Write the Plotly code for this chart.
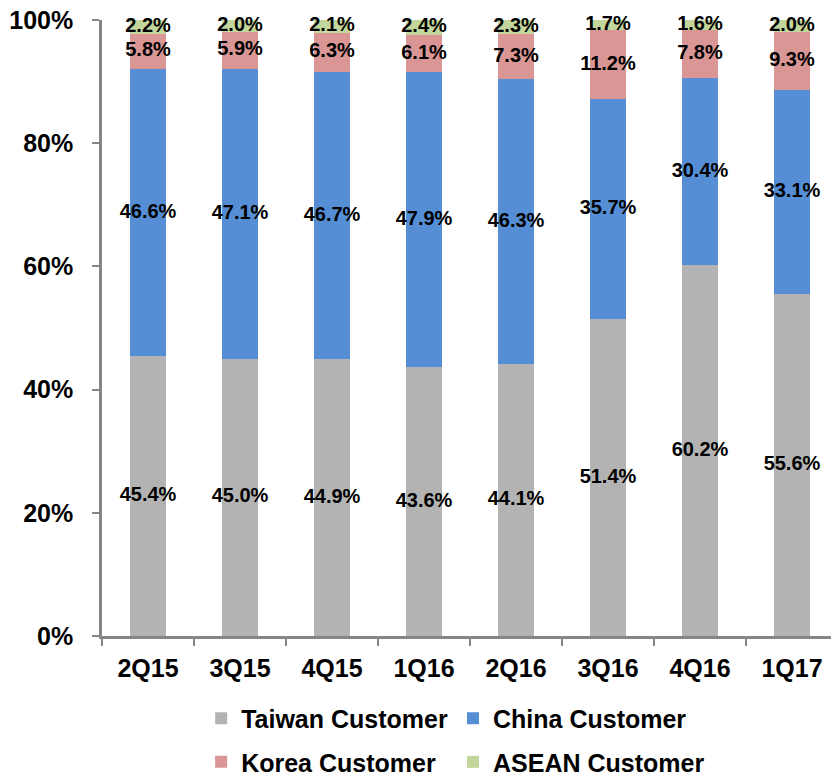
import plotly.graph_objects as go

quarters = ["2Q15", "3Q15", "4Q15", "1Q16", "2Q16", "3Q16", "4Q16", "1Q17"]
taiwan = [45.4, 45.0, 44.9, 43.6, 44.1, 51.4, 60.2, 55.6]
china = [46.6, 47.1, 46.7, 47.9, 46.3, 35.7, 30.4, 33.1]
korea = [5.8, 5.9, 6.3, 6.1, 7.3, 11.2, 7.8, 9.3]
asean = [2.2, 2.0, 2.1, 2.4, 2.3, 1.7, 1.6, 2.0]

# name, values, colour, legend id, legend x (plot fraction), legend top (container fraction)
series = [
    ("Taiwan Customer", taiwan, "#B3B3B3", "legend", 0.136, 0.106),
    ("China Customer", china, "#558ED5", "legend2", 0.4815, 0.106),
    ("Korea Customer", korea, "#D99694", "legend3", 0.136, 0.050),
    ("ASEAN Customer", asean, "#C3D69B", "legend4", 0.4815, 0.050),
]

FONT = "Liberation Sans, Arial, sans-serif"

fig = go.Figure()
base = [0.0] * len(quarters)
label_x, label_y, label_t = [], [], []
legends = {}
for name, vals, color, leg, lx, ly in series:
    fig.add_trace(go.Bar(
        x=quarters, y=[v / 100 for v in vals], name=name,
        marker=dict(color=color, line=dict(width=0)),
        width=0.4, legend=leg,
    ))
    legends[leg] = dict(
        orientation="h", x=lx, xanchor="left", y=ly, yref="container",
        yanchor="top", font=dict(size=25), bgcolor="rgba(0,0,0,0)",
    )
    for i, v in enumerate(vals):
        label_x.append(quarters[i])
        label_y.append((base[i] + v / 2) / 100)
        label_t.append(f"{v:.1f}%")
        base[i] += v

fig.add_trace(go.Scatter(
    x=label_x, y=label_y, text=label_t, mode="text",
    textfont=dict(family=FONT, size=20, color="black", weight="bold"),
    showlegend=False, hoverinfo="skip", cliponaxis=False,
))

fig.update_layout(
    width=831, height=778,
    barmode="stack",
    plot_bgcolor="white", paper_bgcolor="white",
    margin=dict(l=102, r=0, t=20, b=142),
    font=dict(family=FONT, size=25, color="black", weight="bold"),
    xaxis=dict(
        range=[-0.5, 7.424], showline=True, linecolor="#868686", linewidth=2.5,
        ticks="outside", tickson="boundaries", ticklen=7, tickcolor="#868686",
        tickwidth=1.5, ticklabelstandoff=8, showgrid=False,
    ),
    yaxis=dict(
        range=[0, 1], tickvals=[0, 0.2, 0.4, 0.6, 0.8, 1.0], tickformat=".0%",
        showline=True, linecolor="#868686", linewidth=2.5, ticks="outside",
        ticklen=7, tickcolor="#868686", tickwidth=1.5, ticklabelstandoff=14,
        showgrid=False, zeroline=False,
    ),
    **legends,
)

fig.write_html("out.html")
